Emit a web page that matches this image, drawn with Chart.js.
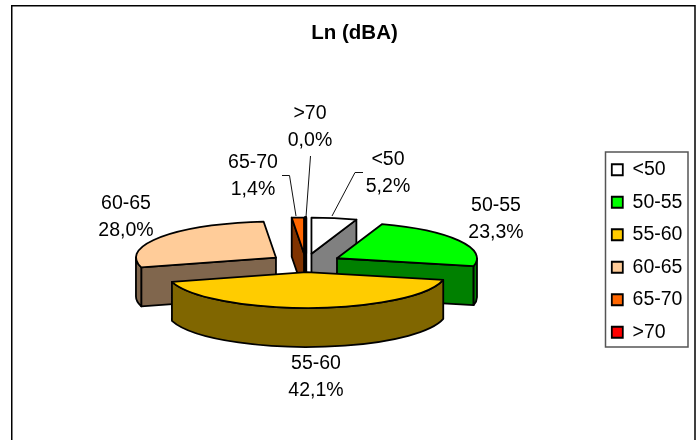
<!DOCTYPE html>
<html>
<head>
<meta charset="utf-8">
<title>Ln (dBA)</title>
<script src="https://cdn.jsdelivr.net/npm/chart.js@4/dist/chart.umd.js"></script>
<style>
  html, body { margin: 0; padding: 0; background: #fff; }
  canvas { display: block; }
</style>
</head>
<body>
<canvas id="myChart" width="697" height="440"></canvas>
<script>
const categories = ['<50', '50-55', '55-60', '60-65', '65-70', '>70'];
const shares = [5.2, 23.3, 42.1, 28.0, 1.4, 0.0];
const sliceColors = ['#FFFFFF', '#00FF00', '#FFCC00', '#FFCC99', '#FF6600', '#FF0000'];

// pie tilt: vertical squash of the top face and height of the walls
const TILT = 0.257;
const DEPTH = 39;
const FONT = '"Liberation Sans", Arial, sans-serif';
const TEXT_SIZE = 19.5;

// centre of each two line label
const labelSpots = [[388, 173], [496, 219.5], [316, 377.5], [126, 217], [253, 176], [310, 127]];
// leader lines, label end first
const leaders = {
  0: [[363, 172.5], [355, 172.5], [332, 216]],
  4: [[282, 175.5], [289.5, 175.5], [296, 216]],
  5: [[310.5, 156], [306, 217]]
};

const halfTone = (hex) => {
  const n = parseInt(hex.slice(1), 16);
  const half = (v) => Math.round(v / 2);
  return `rgb(${half(n >> 16)}, ${half((n >> 8) & 255)}, ${half(n & 255)})`;
};

const pie3d = {
  id: 'pie3d',
  afterLayout(chart) {
    // legend and title sit independently of the plot area
    const legend = chart.legend;
    legend.left = 598.8;
    legend.top = 147;
    legend.right = legend.left + 110;
    legend.bottom = legend.top + 210;
    chart.titleBlock.left = 12;
    chart.titleBlock.right = 697;
    chart.titleBlock.top += 1;
    chart.titleBlock.bottom += 1;
  },
  beforeDraw(chart) {
    const ctx = chart.ctx;
    ctx.save();
    ctx.fillStyle = '#fff';
    ctx.fillRect(0, 0, chart.width, chart.height);
    ctx.strokeStyle = '#000';
    ctx.lineWidth = 1.5;
    ctx.strokeRect(11.75, 5.75, 683.25, 500);
    ctx.strokeStyle = '#555';
    ctx.strokeRect(605.5, 152, 82.5, 195);
    ctx.restore();
  },
  beforeDatasetsDraw(chart) {
    const ctx = chart.ctx;
    const meta = chart.getDatasetMeta(0);

    const slices = meta.data.map((arc, i) => {
      const p = arc.getProps(['x', 'y', 'startAngle', 'endAngle', 'outerRadius'], true);
      const mid = (p.startAngle + p.endAngle) / 2;
      const off = arc.options.offset;
      return {
        i,
        a0: p.startAngle,
        a1: p.endAngle,
        r: p.outerRadius,
        x: p.x + Math.cos(mid) * off,
        y: p.y + Math.sin(mid) * off * TILT,
        color: arc.options.backgroundColor
      };
    }).sort((a, b) => a.y - b.y);

    ctx.save();
    ctx.lineJoin = 'round';
    ctx.strokeStyle = '#000';

    slices.forEach((s) => {
      const rim = (a) => [s.x + Math.cos(a) * s.r, s.y + Math.sin(a) * s.r * TILT];
      const wall = halfTone(s.color);
      const empty = s.a1 - s.a0 < 1e-6;
      // a slice with no width still shows as a heavy stripe
      ctx.lineWidth = empty ? 3 : 1.8;

      const cutFace = (a) => {
        const [rx, ry] = rim(a);
        ctx.beginPath();
        ctx.moveTo(s.x, s.y);
        ctx.lineTo(rx, ry);
        ctx.lineTo(rx, ry + DEPTH);
        ctx.lineTo(s.x, s.y + DEPTH);
        ctx.closePath();
        ctx.fillStyle = wall;
        ctx.fill();
        ctx.stroke();
      };

      if (empty || Math.cos(s.a0) < -1e-6) cutFace(s.a0);
      if (empty || Math.cos(s.a1) > 1e-6) cutFace(s.a1);

      // outer wall, only the part facing the viewer
      const from = Math.max(s.a0, 0);
      const to = Math.min(s.a1, Math.PI);
      if (to > from) {
        ctx.beginPath();
        ctx.ellipse(s.x, s.y, s.r, s.r * TILT, 0, from, to);
        ctx.ellipse(s.x, s.y + DEPTH, s.r, s.r * TILT, 0, to, from, true);
        ctx.closePath();
        ctx.fillStyle = wall;
        ctx.fill();
        ctx.stroke();
      }

      // top face
      ctx.beginPath();
      ctx.moveTo(s.x, s.y);
      ctx.ellipse(s.x, s.y, s.r, s.r * TILT, 0, s.a0, s.a1);
      ctx.closePath();
      ctx.fillStyle = s.color;
      ctx.fill();
      ctx.stroke();
    });

    // leader lines
    ctx.lineWidth = 1;
    ctx.strokeStyle = '#111';
    Object.values(leaders).forEach((pts) => {
      ctx.beginPath();
      pts.forEach(([x, y], k) => (k ? ctx.lineTo(x, y) : ctx.moveTo(x, y)));
      ctx.stroke();
    });

    // category and percentage labels
    ctx.fillStyle = '#000';
    ctx.font = `${TEXT_SIZE}px ${FONT}`;
    ctx.textAlign = 'center';
    ctx.textBaseline = 'middle';
    categories.forEach((name, i) => {
      const [x, y] = labelSpots[i];
      ctx.fillText(name, x, y - 13.5);
      ctx.fillText(shares[i].toFixed(1).replace('.', ',') + '%', x, y + 13.5);
    });
    ctx.restore();
    return false;
  }
};

new Chart(document.getElementById('myChart'), {
  type: 'pie',
  data: {
    labels: categories,
    datasets: [{
      data: shares,
      backgroundColor: sliceColors,
      borderColor: '#000',
      borderWidth: 1.8,
      offset: 36,
      radius: 140
    }]
  },
  options: {
    responsive: false,
    animation: false,
    layout: { padding: { left: 0, right: 85.8, top: 10, bottom: 0 } },
    plugins: {
      title: {
        display: true,
        text: 'Ln (dBA)',
        color: '#000',
        font: { family: FONT, size: 20.5, weight: 'bold' },
        padding: { top: 10, bottom: 41 }
      },
      legend: {
        position: 'chartArea',
        align: 'start',
        labels: {
          boxWidth: 11,
          boxHeight: 11,
          padding: 13,
          color: '#000',
          font: { family: FONT, size: TEXT_SIZE }
        }
      },
      tooltip: { enabled: false }
    }
  },
  plugins: [pie3d]
});
</script>
</body>
</html>
